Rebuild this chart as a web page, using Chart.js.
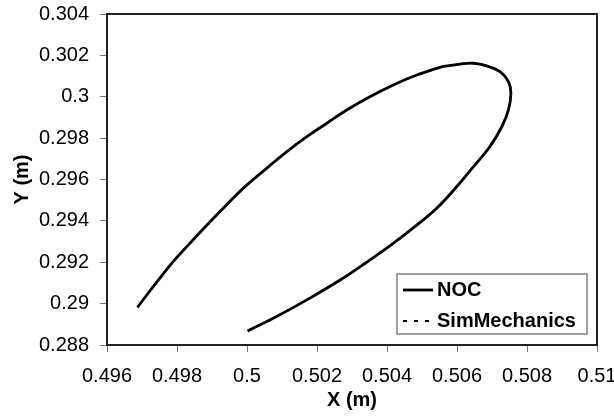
<!DOCTYPE html>
<html>
<head>
<meta charset="utf-8">
<script src="https://cdn.jsdelivr.net/npm/chart.js@4.4.0/dist/chart.umd.min.js"></script>
<style>
  html, body { margin: 0; padding: 0; background: #fff; }
</style>
</head>
<body>
<canvas id="xyChart" width="614" height="416"></canvas>
<script>
// NOC trajectory (start bottom, loop, end left)
const nocX = [0.50002, 0.50075, 0.50171, 0.50266, 0.50342, 0.50409, 0.50475, 0.50542,
  0.50599, 0.50647, 0.50694, 0.50728, 0.50747, 0.50754, 0.50747, 0.50723, 0.50685,
  0.50647, 0.50609, 0.50571, 0.50551, 0.50485, 0.50418, 0.50351, 0.50285, 0.50228,
  0.50171, 0.50113, 0.50056, 0.49989, 0.49932, 0.49883, 0.49832, 0.49789, 0.49732, 0.49687];
const nocY = [0.28868, 0.28929, 0.29018, 0.29114, 0.29200, 0.29280, 0.29366, 0.29461,
  0.29565, 0.29662, 0.29759, 0.29855, 0.29936, 0.30017, 0.30073, 0.30121, 0.30149,
  0.30162, 0.30158, 0.30149, 0.30142, 0.30105, 0.30057, 0.30000, 0.29936, 0.29872,
  0.29807, 0.29734, 0.29654, 0.29557, 0.29461, 0.29375, 0.29283, 0.29203, 0.29082, 0.28982];

// SimMechanics lies on top of NOC everywhere in the picture
const simX = [0.50002, 0.50075, 0.50171, 0.50266, 0.50342, 0.50409, 0.50475, 0.50542,
  0.50599, 0.50647, 0.50694, 0.50728, 0.50747, 0.50754, 0.50747, 0.50723, 0.50685,
  0.50647, 0.50609, 0.50571, 0.50551, 0.50485, 0.50418, 0.50351, 0.50285, 0.50228,
  0.50171, 0.50113, 0.50056, 0.49989, 0.49932, 0.49883, 0.49832, 0.49789, 0.49732, 0.49687];
const simY = [0.28868, 0.28929, 0.29018, 0.29114, 0.29200, 0.29280, 0.29366, 0.29461,
  0.29565, 0.29662, 0.29759, 0.29855, 0.29936, 0.30017, 0.30073, 0.30121, 0.30149,
  0.30162, 0.30158, 0.30149, 0.30142, 0.30105, 0.30057, 0.30000, 0.29936, 0.29872,
  0.29807, 0.29734, 0.29654, 0.29557, 0.29461, 0.29375, 0.29283, 0.29203, 0.29082, 0.28982];

const xTicks = [0.496, 0.498, 0.5, 0.502, 0.504, 0.506, 0.508, 0.51];
const xTickLabels = ['0.496', '0.498', '0.5', '0.502', '0.504', '0.506', '0.508', '0.51'];
const yTicks = [0.288, 0.29, 0.292, 0.294, 0.296, 0.298, 0.3, 0.302, 0.304];
const yTickLabels = ['0.288', '0.29', '0.292', '0.294', '0.296', '0.298', '0.3', '0.302', '0.304'];

const FONT = 'Liberation Sans, Arial, sans-serif';

function toPoints(xs, ys) {
    return xs.map((x, i) => ({ x: x, y: ys[i] }));
}

// box around the plot area
const framePlugin = {
    id: 'frame',
    afterDatasetsDraw(chart) {
        const { ctx, chartArea: a } = chart;
        ctx.save();
        ctx.strokeStyle = '#222';
        ctx.lineWidth = 2;
        ctx.strokeRect(a.left, a.top, a.right - a.left, a.bottom - a.top);
        ctx.restore();
    }
};

// legend box inside the plot, bottom right
const boxLegendPlugin = {
    id: 'boxLegend',
    afterDraw(chart) {
        const { ctx, chartArea: a } = chart;
        const w = 190, h = 60;
        const left = a.right - 10 - w;
        const top = a.bottom - 11 - h;
        ctx.save();
        ctx.fillStyle = '#fff';
        ctx.fillRect(left, top, w, h);
        ctx.strokeStyle = '#808080';
        ctx.lineWidth = 1.5;
        ctx.strokeRect(left, top, w, h);
        ctx.font = 'bold 20px ' + FONT;
        ctx.textBaseline = 'middle';
        ctx.fillStyle = '#000';
        chart.data.datasets.forEach((ds, i) => {
            const y = top + 16 + i * 31;
            ctx.beginPath();
            ctx.strokeStyle = ds.borderColor;
            ctx.lineWidth = ds.borderWidth;
            ctx.setLineDash(ds.borderDash || []);
            ctx.moveTo(left + 6, y);
            ctx.lineTo(left + 36, y);
            ctx.stroke();
            ctx.setLineDash([]);
            ctx.fillText(ds.label, left + 40, y);
        });
        ctx.restore();
    }
};

const ctx = document.getElementById('xyChart').getContext('2d');
new Chart(ctx, {
    type: 'scatter',
    data: {
        datasets: [{
            label: 'NOC',
            data: toPoints(nocX, nocY),
            showLine: true,
            borderColor: '#000',
            borderWidth: 2.8,
            pointRadius: 0,
            tension: 0.4
        }, {
            label: 'SimMechanics',
            data: toPoints(simX, simY),
            showLine: true,
            borderColor: '#000',
            borderWidth: 2,
            borderDash: [4, 7],
            pointRadius: 0,
            tension: 0.4
        }]
    },
    options: {
        responsive: false,
        animation: false,
        devicePixelRatio: 1,
        layout: { padding: { left: 6, right: 17, top: 14, bottom: 4 } },
        plugins: {
            legend: { display: false },
            tooltip: { enabled: false }
        },
        scales: {
            x: {
                type: 'linear',
                min: 0.496,
                max: 0.51,
                afterBuildTicks: (scale) => { scale.ticks = xTicks.map(v => ({ value: v })); },
                afterFit: (scale) => {
                    scale.paddingLeft = 0;
                    scale.paddingRight = 0;
                    scale.height = 67;
                },
                ticks: {
                    color: '#000',
                    font: { family: FONT, size: 20 },
                    padding: 12,
                    maxRotation: 0,
                    autoSkip: false,
                    callback: (v, i) => xTickLabels[i]
                },
                grid: { drawOnChartArea: false, drawTicks: true, tickLength: 7, color: '#777' },
                border: { display: false },
                title: {
                    display: true,
                    text: 'X (m)',
                    color: '#000',
                    font: { family: FONT, size: 20, weight: 'bold' },
                    padding: { top: 0, bottom: 0 }
                }
            },
            y: {
                type: 'linear',
                min: 0.288,
                max: 0.304,
                afterBuildTicks: (scale) => { scale.ticks = yTicks.map(v => ({ value: v })); },
                afterFit: (scale) => {
                    scale.paddingTop = 0;
                    scale.paddingBottom = 0;
                    scale.width = 101;
                },
                ticks: {
                    color: '#000',
                    font: { family: FONT, size: 20 },
                    padding: 11,
                    autoSkip: false,
                    callback: (v, i) => yTickLabels[i]
                },
                grid: { drawOnChartArea: false, drawTicks: true, tickLength: 7, color: '#777' },
                border: { display: false },
                title: {
                    display: true,
                    text: 'Y (m)',
                    color: '#000',
                    font: { family: FONT, size: 20, weight: 'bold' },
                    padding: { top: 4, bottom: 5 }
                }
            }
        }
    },
    plugins: [framePlugin, boxLegendPlugin]
});
</script>
</body>
</html>
